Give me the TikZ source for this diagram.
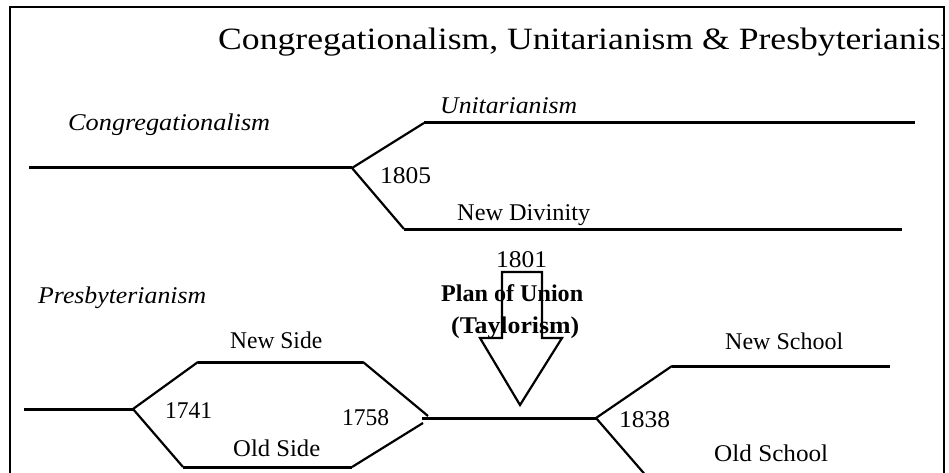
\documentclass[tikz,border=0pt]{standalone}
\usepackage{fontspec}
\setmainfont{Liberation Serif}
\newcommand{\fitw}[2]{\resizebox{#1pt}{\height}{#2}}
\begin{document}
\begin{tikzpicture}[x=1pt,y=-1pt,
  hline/.style={line width=3pt},
  dline/.style={line width=2.2pt},
  frame/.style={line width=2pt},
  arrowshape/.style={line width=2.2pt, line join=miter},
  lbl/.style={inner sep=0pt, anchor=base west, font=\fontsize{24}{28}\selectfont},
  ilbl/.style={lbl, font=\fontsize{24}{28}\selectfont\itshape},
  blbl/.style={lbl, font=\fontsize{24}{28}\selectfont\bfseries},
  ttl/.style={inner sep=0pt, anchor=base west, font=\fontsize{31}{36}\selectfont},
]
\useasboundingbox (0,0) rectangle (949,473);
% frame (open at the bottom)
\draw[frame] (10,473) -- (10,7) -- (944,7) -- (944,473);
% title, clipped by the frame
\begin{scope}
\clip (10,7) rectangle (944,473);
\node[ttl] (title) at (218,50) {\fitw{750}{Congregationalism, Unitarianism \& Presbyterianism}};
\end{scope}

% ---------- Congregationalism fork ----------
\coordinate (c0) at (29,168);
\coordinate (c1) at (352,168);
\coordinate (u0) at (424,123);
\coordinate (u1) at (915,123);
\coordinate (d0) at (404,229);
\coordinate (d1) at (902,229);
\draw[hline] (c0) -- (c1);
\draw[dline] (c1) -- (u0);
\draw[hline] (u0) -- (u1);
\draw[dline] (c1) -- (d0);
\draw[hline] (d0) -- (d1);

\node[ilbl] (congl) at (68,131) {\fitw{202}{Congregationalism}};
\node[ilbl] (unitl) at (440,114) {\fitw{137}{Unitarianism}};
\node[lbl] (y1805) at (380,183) {\fitw{51}{1805}};
\node[lbl] (newdiv) at (457,220) {\fitw{133}{New Divinity}};

% ---------- Plan of Union arrow ----------
\node[lbl] (y1801) at (496,267) {\fitw{51}{1801}};
\node[blbl] (plan) at (441,301) {\fitw{142}{Plan of Union}};
\node[blbl] (tayl) at (451,333) {\fitw{128}{(Taylorism)}};
\coordinate (a1) at (502,272);
\coordinate (a2) at (542,272);
\coordinate (a3) at (542,338);
\coordinate (a4) at (562,338);
\coordinate (a5) at (520,405);
\coordinate (a6) at (480,338);
\coordinate (a7) at (502,338);
\draw[arrowshape] (a1) -- (a2) -- (a3) -- (a4) -- (a5) -- (a6) -- (a7) -- cycle;

% ---------- Presbyterianism ----------
\node[ilbl] (presl) at (38,303) {\fitw{168}{Presbyterianism}};
\coordinate (p0) at (24,409);
\coordinate (p1) at (133,409);
\coordinate (ns0) at (198,362);
\coordinate (ns1) at (363,362);
\coordinate (os0) at (183,467);
\coordinate (os1) at (352,467);
\coordinate (m0) at (428,416);
\coordinate (m0b) at (423,423);
\coordinate (m1) at (422,418);
\coordinate (m2) at (596,418);
\draw[hline] (p0) -- (p1);
\draw[dline] (p1) -- (ns0);
\draw[hline] (ns0) -- (ns1);
\draw[dline] (ns1) -- (m0);
\draw[dline] (p1) -- (os0);
\draw[hline] (os0) -- (os1);
\draw[dline] (os1) -- (m0b);
\draw[hline] (m1) -- (m2);

\node[lbl] (newside) at (230,348) {\fitw{92}{New Side}};
\node[lbl] (y1741) at (165,418) {\fitw{47}{1741}};
\node[lbl] (y1758) at (342,425) {\fitw{47}{1758}};
\node[lbl] (oldside) at (233,456) {\fitw{87}{Old Side}};

% ---------- 1838 fork ----------
\coordinate (s0) at (672,366);
\coordinate (s1) at (890,366);
\coordinate (s2) at (648,478);
\draw[dline] (m2) -- (s0);
\draw[hline] (s0) -- (s1);
\draw[dline] (m2) -- (s2);

\node[lbl] (y1838) at (619,427) {\fitw{51}{1838}};
\node[lbl] (newsch) at (725,349) {\fitw{118}{New School}};
\node[lbl] (oldsch) at (714,461) {\fitw{114}{Old School}};
\end{tikzpicture}
\end{document}
